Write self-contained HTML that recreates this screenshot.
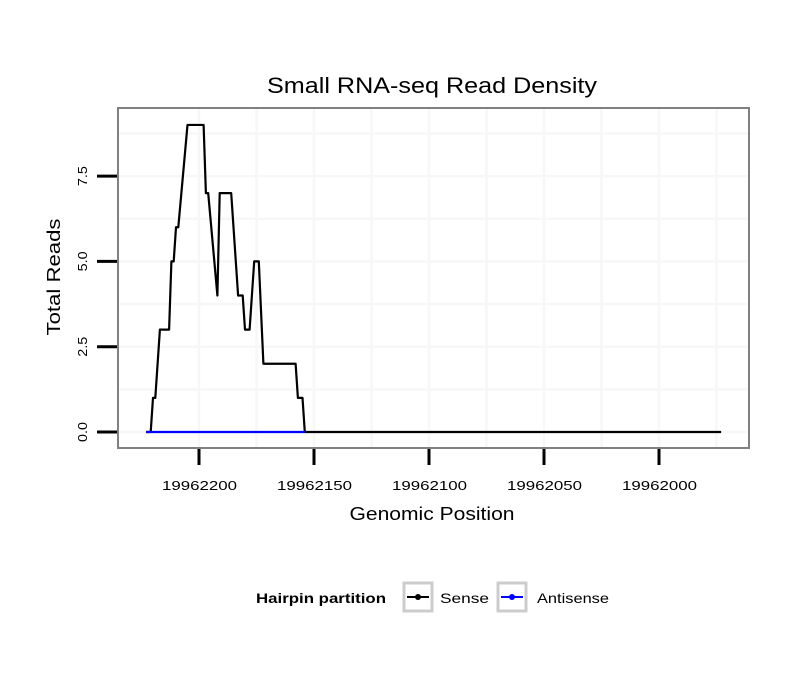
<!DOCTYPE html>
<html><head><meta charset="utf-8"><style>
body{margin:0;background:#fff;font-family:"Liberation Sans",sans-serif}
</style></head><body>
<svg width="810" height="690" xmlns="http://www.w3.org/2000/svg" font-family="Liberation Sans, sans-serif">
<text x="432" y="93" text-anchor="middle" font-size="22" textLength="330" lengthAdjust="spacingAndGlyphs">Small RNA-seq Read Density</text>
<g id="grid"></g>
<g id="series"></g>
<rect x="118" y="108" width="631" height="340" fill="none" stroke="#808080" stroke-width="2"/>
<g id="axes"></g>
<text x="432" y="520" text-anchor="middle" font-size="18" textLength="165" lengthAdjust="spacingAndGlyphs">Genomic Position</text>
<text transform="translate(60,277) rotate(-90)" text-anchor="middle" font-size="18" textLength="117" lengthAdjust="spacingAndGlyphs">Total Reads</text>
<g>
<text x="256" y="603" font-size="14" font-weight="bold" textLength="130" lengthAdjust="spacingAndGlyphs">Hairpin partition</text>
<g>
<rect x="404" y="583" width="28" height="28" fill="#fff" stroke="#ccc" stroke-width="3"/>
<line x1="407" y1="597" x2="429" y2="597" stroke="#000" stroke-width="2"/><circle cx="418" cy="597" r="3" fill="#000"/>
<text x="440" y="603" font-size="14" textLength="49" lengthAdjust="spacingAndGlyphs">Sense</text></g>
<g>
<rect x="498" y="583" width="28" height="28" fill="#fff" stroke="#ccc" stroke-width="3"/>
<line x1="501" y1="597" x2="523" y2="597" stroke="#00f" stroke-width="2"/><circle cx="512" cy="597" r="3" fill="#00f"/>
<text x="537" y="603" font-size="14" textLength="72" lengthAdjust="spacingAndGlyphs">Antisense</text></g>
</g>
</svg>
<script>
const senseOffsets=[223,221,220,219,217,213,212,211,210,209,205,198,197,196,192,191,186,183,181,180,178,176,174,172,158,157,155,154,-27];
const senseValues=[0,0,1,1,3,3,5,5,6,6,9,9,7,7,4,7,7,4,4,3,3,5,5,2,2,1,1,0,0];
const antisenseOffsets=[223,154];
const antisenseValues=[0,0];
const xBase=19962000;
const xTicks=[19962200,19962150,19962100,19962050,19962000];
const yTicks=[0,2.5,5,7.5];
const yTickLabels=["0.0","2.5","5.0","7.5"];
const NS="http://www.w3.org/2000/svg";
const X=p=>199+(19962200-p)*2.3;
const Y=v=>432-v*(85.3/2.5);
function mk(t,a,parent){const e=document.createElementNS(NS,t);for(const k in a)e.setAttribute(k,a[k]);document.getElementById(parent).appendChild(e);return e;}
for(let i=0;i<xTicks.length;i++){
 for(const p of [xTicks[i],xTicks[i]-25]){
  const g=mk('line',{x1:X(p),x2:X(p),y1:109,y2:447,stroke:'#f7f7f7','stroke-width':2.5},'grid');
  
  
 }
}
for(const v of [0,1.25,2.5,3.75,5,6.25,7.5,8.75]){
 const g=mk('line',{x1:119,x2:748,y1:Y(v),y2:Y(v),stroke:'#f7f7f7','stroke-width':2.5},'grid');
 
 
}
function path(offs,vals,color,name){
 const d=offs.map((o,i)=>(i?'L':'M')+X(xBase+o)+','+Y(vals[i])).join(' ');
 const p=mk('path',{d:d,fill:'none',stroke:color,'stroke-width':2.2,'stroke-linejoin':'round'},'series');
 
 
}
path(senseOffsets,senseValues,'#000','sense-line');
path(antisenseOffsets,antisenseValues,'#00f','antisense-line');
xTicks.forEach(p=>{
 const t=mk('line',{x1:X(p),x2:X(p),y1:449,y2:465,stroke:'#000','stroke-width':3},'axes');
 
 
 const l=mk('text',{x:X(p)-37,y:490,'font-size':13,textLength:75,lengthAdjust:'spacingAndGlyphs'},'axes');
 l.textContent=p;
 
 
});
yTicks.forEach((v,i)=>{
 const t=mk('line',{x1:97,x2:117,y1:Y(v),y2:Y(v),stroke:'#000','stroke-width':3},'axes');
 
 
 const l=mk('text',{transform:'translate(87,'+(Y(v)+10)+') rotate(-90)','font-size':13,textLength:20,lengthAdjust:'spacingAndGlyphs'},'axes');
 l.textContent=yTickLabels[i];
 
 
});
</script>
</body></html>
